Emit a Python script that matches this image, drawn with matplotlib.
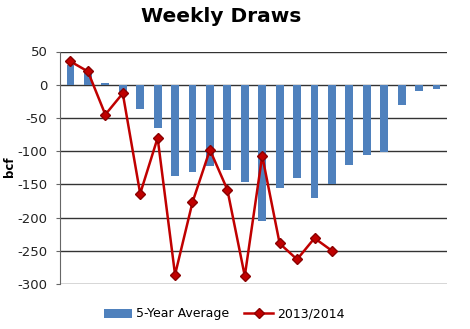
import matplotlib
matplotlib.use("Agg")
import matplotlib.pyplot as plt
import numpy as np

# Weekly storage draws (bcf)
weeks = list(range(1, 23))
five_year_avg = [30, 18, 2, -12, -36, -65, -137, -132, -123, -128, -146,
                 -205, -155, -140, -170, -149, -121, -106, -101, -31, -9, -7]
season_2013_14 = [35, 20, -45, -13, -164, -80, -286, -177, -98, -158, -288,
                  -107, -239, -263, -231, -250]
y_ticks = [50, 0, -50, -100, -150, -200, -250, -300]

fig = plt.figure(figsize=(4.7, 3.29), dpi=100)
ax = fig.add_axes([60 / 470, 1 - 284 / 329, 387 / 470, (284 - 51.5) / 329])

x = np.arange(len(weeks))
bars = ax.bar(x, five_year_avg, width=0.45, color="#4F81BD", zorder=2,
              label="5-Year Average")
xl = np.arange(len(season_2013_14))
line, = ax.plot(xl, season_2013_14, color="#C00000", lw=1.8, marker="D",
                ms=5, markerfacecolor="#C00000", markeredgecolor="#8B0000",
                zorder=3, label="2013/2014")

ax.set_xlim(-0.6, len(weeks) - 0.4)
ax.set_ylim(-300, 50)
ax.set_yticks(y_ticks)
ax.set_yticklabels([str(v) for v in y_ticks], fontsize=9.5, color="#222222")
ax.set_xticks([])
ax.grid(axis="y", color="#333333", lw=1, zorder=0)
ax.set_axisbelow(True)
for s in ["top", "right", "bottom"]:
    ax.spines[s].set_visible(False)
ax.spines["left"].set_color("#666666")
ax.tick_params(axis="y", length=3, color="#666666", pad=6)

fig.text(9 / 470, 1 - 167 / 329, "bcf", rotation=90, ha="center",
         va="center", fontsize=8.5, fontweight="bold")
fig.text(221 / 470, 1 - 17 / 329, "Weekly Draws", ha="center", va="center",
         fontsize=14.5, fontweight="bold")

fig.legend([bars, line], ["5-Year Average", "2013/2014"], loc="center",
           bbox_to_anchor=(224 / 470, 1 - 314 / 329), ncol=2,
           frameon=False, fontsize=9, handlelength=2.3, columnspacing=1.2,
           handletextpad=0.3)

fig.savefig("out.png", dpi=100)
